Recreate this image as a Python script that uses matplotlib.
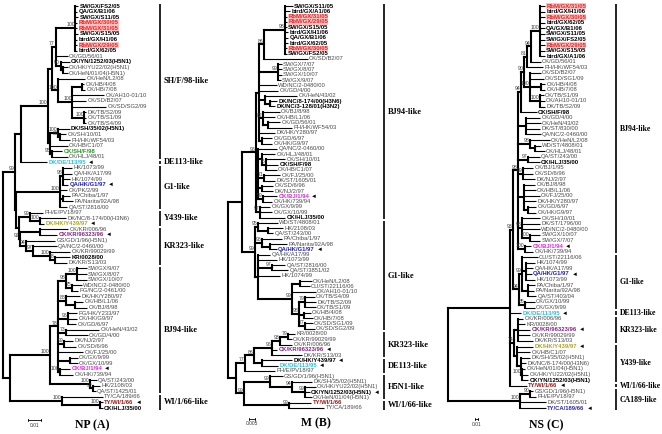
import matplotlib
matplotlib.use("Agg")
import matplotlib.pyplot as plt
from matplotlib.collections import LineCollection

plt.rcParams['font.family'] = ['Liberation Sans', 'DejaVu Sans']

# trees in Newick, branch lengths in 10^-3 substitutions/site,
# internal node labels are bootstrap values
NP_TREE = """
(
 (
  (
   (
    (
     (('SW/GX/FS2/05':2.2,'QA/GX/B1/06':1.5,'SW/GX/S11/05':2.2,'RbM/GX/30/05':1.5,'RbM/GX/31/05':1.5,
       'SW/GX/S15/05':2.2,'bird/GX/H1/06':1.5,'RbM/GX/29/05':1.5,'bird/GX/62/05':1.5)100:15,
      'CK/GD/56/01':9,
      ('CK/YN/1252/03(H5N1)':6.8,('CK/HK/YU22/02(H5N1)':3.8,'CK/HeN/01/04(H5N1)':3.8):1.5)90:3.8
     )77:3,
     ('CK/HeN/L2/08':21,
      (('CK/HB/4/08':1.5,'CK/HB/7/08':2.2):7.5,'CK/AH10-01/10':24,'CK/SD/B2/07':10.5,'CK/SD/SG2/09':25.5,
       ('DK/TB/S2/09':1.5,'CK/TB/S1/09':1.5,'CK/TB/S4/09':1.5)100:9)100:11.2
     )100:4.5
    ):3,
    (('DK/SH/35/02(H5N1)':9,('CK/SH/10/01':5.2,'PH/HK/WF54/03':7.5)88:1.5)100:6,
     'CK/HB/C1/07':13.5,
     ('CK/SH/F/98':8.2,'CK/HLJ/48/01':12)95:1.5
    ):1.5
   )100:20,
   'DK/DE/113/95':19.5
  ):4.5,
  (
   (('HK/1073/99':6.8,'QA/HK/A17/99':6.8,'HK/1074/99':5.2,'QA/HK/G1/97':3.8)98:2.2,'CK/PK/2/99':5.2,
    ('PA/Chiba/1/97':5.2,'PA/Narita/92A/98':7.5):2.2,'QA/ST/2816/00':5.2)100:33,
   (
    ('PH/E/PV18/97':9.8,('DK/NC/8-174/00(H3N6)':20,'DK/HK/Y439/97':3)100:7.5)99:8.2,
    (('CK/KR/006/96':21,'CK/KR/96323/96':12.8):15,
     ('GS/GD/1/96(H5N1)':22,('QA/NC/2-0460/00':18,('CK/KR/99029/99':15,
       ('KR/0028/00':11.2,'DK/KR/S13/03':9)78:3.8)100:12.8)97:5.2)94:4.5)92:0.75
   ):2.2
  ):0.75
 )99:9,
 (
  (
   (
    (('SW/GX/9/07':7.5,'SW/GX/8/07':7.5,'SW/GX/10/07':7.5)100:8.2,
     ('WD/NC/2-0480/00':7.5,'PG/NC/2-0461/00':4.5)75:4.5)98:6,
    ('DK/HK/Y280/97':10.5,('CK/HB/L1/06':6,'CK/BJ/8/98':9):6.8)88:6,
    ('PG/HK/Y233/97':6.8,'CK/HK/G9/97':6.8,'CK/GD/6/97':6)96:7.5,
    ('CK/HeN/43/02':24.8,'CK/GD/4/00':16.5)73:6,
    ('DK/NJ/2/97':6.8,'CK/SD/6/96':9)99:4.5,
    'CK/FJ/25/00':18.8,
    ('CK/GX/9/99':6,'CK/GX/10/99':6):9,
    ('CK/BJ/1/94':7.5,'CK/HK/739/94':9.8)100:1.5
   )78:6,
   ('QA/ST/243/00':5.2,('HK/2108/03':5.2,'QA/ST/1425/01':2.2)92:2.2)100:30
  )100:30,
  ('TY/CA/189/66':30.8,('TY/WI/1/66':2.2,'CK/HLJ/35/00':2.2)100:28.5)100:39
 ):5.2
);
"""

M_TREE = """
(
 (
  (
   (
    (('SW/GX/S11/05':6.6,'bird/GX/A1/06':4.2,'RbM/GX/31/05':1.7,'RbM/GX/29/05':1.7,'SW/GX/S15/05':1.7,
      'bird/GX/H1/06':2.5,'QA/GX/B1/06':2.5,'bird/GX/62/05':2.5,'RbM/GX/30/05':1.7,'SW/GX/FS2/05':1.7)98:17.4,
     'CK/SD/B2/07':36.5)86:4.2,
    ('SW/GX/7/07':3.3,'SW/GX/8/07':3.3,'SW/GX/10/07':3.3,'SW/GX/9/07':2.5)99:15.7,
    'WD/NC/2-0480/00':15,
    'CK/GD/4/00':15.8,
    ('CK/HeN/43/02':26.6,('DK/NC/8-174/00(H3N6)':5.8,'DK/NC/3-128/01(H3N2)':4.2):4.2):5,
    ('CK/BJ/8/98':14,'CK/HB/L1/06':10,('CK/GD/56/01':10,'PH/HK/WF54/03':20):4.2)82:3.3,
    'DK/HK/Y280/97':13.3,
    ('CK/GD/6/97':8.3,'CK/HK/G9/97':8.3):2.5
   ):2.5,
   ('QA/NC/2-0460/00':15.8,
    ('CK/HLJ/48/01':10.8,('CK/SH/10/01':15.8,'CK/SH/F/98':10,'CK/HB/C1/07':9.1)76:3.3):3.3,
    ('CK/FJ/25/00':13.3,'DK/ST/1605/01':9.1)71:5,
    ('CK/SD/6/96':9.1,'DK/NJ/2/97':9.1):3.3,
    ('CK/BJ/1/94':11.6,'CK/HK/739/94':7.5)99:4.2
   ):1.7,
   ('CK/GX/9/99':8.3,'CK/GX/10/99':10,'CK/HLJ/35/00':20.8)97:3.3
  )96:11.6,
  (
   ('WD/ST/4808/01':16.6,('HK/2108/03':12.5,'QA/ST/243/00':4.2):8.3)95:2.5,
   ('PA/Chiba/1/97':16.6,('PA/Narita/92A/98':14,'QA/HK/G1/97':5.8):6.6)96:5.8,
   ('QA/HK/A17/99':10,'HK/1073/99':15.8,('QA/ST/2816/00':10.8,'QA/ST/3851/02':13.3)97:11.6,'HK/1074/99':18.3,
    (('CK/HeN/L2/08':10,'CU/ST/22116/06':8.3):6.6,'CK/AH10-01/10':20,
     (('CK/TB/S4/09':8.3,'DK/TB/S2/09':9.1,'CK/TB/S1/09':9.1)79:5,('CK/HB/4/08':5.8,'CK/HB/7/08':7.5):4.2,
      ('CK/SD/SG1/09':6.6,'CK/SD/SG2/09':8.3)77:5)98:5.8
    )99:28.2
   ):2.5
  )99:10.8
 ):11.6,
 (
  (
   (
    ((('KR/0028/00':5.8,'CK/KR/99029/99':3.3)79:6.6,'CK/KR/006/96':10)93:6.6,'CK/KR/96323/96':4.2,'DK/KR/S13/03':25)96:15,
    ('DK/HK/Y439/97':25,'DK/DE/113/95':13.3):6.6
   )86:7.5,
   'PH/E/PV18/97':25
  )77:7.5,
  (
   ('GS/GD/1/96(H5N1)':10.8,('DK/SH/35/02(H5N1)':16.6,('CK/HK/YU22/02(H5N1)':9.1,'CK/YN/1252/03(H5N1)':4.2,
     'CK/HeN/01/04(H5N1)':5.8)99:10.8)94:18.3)99:21.6,
   ('TY/WI/1/66':18.3,'TY/CA/189/66':29)99:38
  )99:6.6
 ):6.6
);
"""

NS_TREE = """
(
 (
  (
   (
    (
     (
      (
       (('RbM/GX/31/05':18.5,'bird/GX/H1/06':18.5,'RbM/GX/30/05':18.5,'bird/GX/62/05':18.5,'QA/GX/B1/06':18.5,
         'SW/GX/S11/05':18.5,'SW/GX/FS2/05':18.5,'RbM/GX/29/05':18.5,'SW/GX/S15/05':18.5,'bird/GX/A1/06':18.5)100:33,
        'CK/GD/56/01':37)94:15,
       'PH/HK/WF54/03':59
      )81:11,
      ('CK/SD/B2/07':41,'CK/SD/SG1/09':52,('CK/HB/4/08':15,'CK/HB/7/08':15):41,
       ('CK/TB/S1/09':15,'CK/AH10-01/10':18.5,'DK/TB/S2/09':18.5)100:37)100:22
     )90:11,
     'CK/SH/F/98':59
    )94:11,
    ('CK/GD/4/00':52,'CK/HeN/43/02':55,'DK/ST/830/00':52,'QA/NC/2-0460/00':55):30,
    ('CK/HeN/L2/08':74,('WD/ST/4808/01':22,'CK/HLJ/48/01':37):18.5)98:44,
    ('QA/ST/243/00':44,'CK/HLJ/35/00':44)97:37,
    ('CK/BJ/1/95':37,'CK/SD/6/96':37,'DK/NJ/2/97':44)99:18.5,
    ('CK/BJ/8/98':41,'CK/HB/L1/06':44,'CK/FJ/25/00':59,'DK/HK/Y280/97':44,('CK/GD/6/97':30,'CK/HK/G9/97':30):15):22,
    ('CK/SH/10/01':67,'DK/ST/1796/00':67,'WD/NC/2-0480/00':67,('SW/GX/10/07':37,'SW/GX/7/07':37)100:30)98:15,
    ('CK/BJ/1/94':22,'CK/HK/739/94':30)100:26
   )98:18.5,
   (('CU/ST/22116/06':59,('HK/1074/99':33,'QA/HK/A17/99':26,'QA/HK/G1/97':22,'HK/1073/99':33):15,
     ('PA/Chiba/1/97':26,'PA/Narita/92A/98':22,'QA/ST/403/04':30):22)99:11,
    ('CK/GX/10/99':37,'CK/GX/9/99':37)85:22)94:22
  )93:11,
  'DK/DE/113/95':41,
  (('CK/KR/006/96':18.5,'KR/0028/00':26,'CK/KR/96323/96':44,'CK/KR/99029/99':44,'DK/KR/S13/03':55):15,
   ('DK/HK/Y439/97':59,'CK/HB/C1/07':48,('DK/SH/35/02(H5N1)':33,'DK/NC/8-174/00(H3N6)':18.5,
     ('CK/HeN/01/04(H5N1)':11,'CK/HK/YU22/02(H5N1)':22,'CK/YN/1252/03(H5N1)':22)100:3.7):15):11)74:15,
  'TY/WI/1/66':63
 ):229,
 (('GS/GD/1/96(H5N1)':11,'PH/E/PV18/97':22)90:37,'DK/ST/1605/01':96,'TY/CA/189/66':96)100:266
);
"""

RBM = ['RbM/GX/29/05', 'RbM/GX/30/05', 'RbM/GX/31/05']
GX_BOLD = ['SW/GX/FS2/05', 'QA/GX/B1/06', 'SW/GX/S11/05', 'SW/GX/S15/05',
           'bird/GX/H1/06', 'bird/GX/62/05', 'bird/GX/A1/06']

NP_BOLD = ['CK/YN/1252/03(H5N1)', 'DK/SH/35/02(H5N1)', 'KR/0028/00', 'CK/HLJ/35/00']
M_BOLD = ['DK/NC/8-174/00(H3N6)', 'DK/NC/3-128/01(H3N2)', 'CK/SH/F/98', 'CK/HLJ/35/00',
          'DK/HK/Y439/97', 'CK/YN/1252/03(H5N1)']
NS_BOLD = ['CK/SH/F/98', 'CK/HLJ/35/00', 'CK/YN/1252/03(H5N1)']

NP_MARKED = ['DK/DE/113/95', 'QA/HK/G1/97', 'DK/HK/Y439/97', 'CK/KR/96323/96', 'CK/BJ/1/94', 'TY/WI/1/66']
M_MARKED = ['CK/BJ/1/94', 'QA/HK/G1/97', 'CK/KR/96323/96', 'DK/HK/Y439/97', 'DK/DE/113/95',
            'CK/YN/1252/03(H5N1)']
NS_MARKED = ['DK/DE/113/95', 'CK/KR/96323/96', 'DK/HK/Y439/97', 'TY/WI/1/66', 'TY/CA/189/66',
             'CK/BJ/1/94', 'QA/HK/G1/97']

NP_COLORS = {'CK/SH/F/98': '#1f9a1f', 'DK/DE/113/95': '#25c3e6', 'QA/HK/G1/97': '#1a1ac8',
             'DK/HK/Y439/97': '#b2a21c', 'CK/KR/96323/96': '#8b1c8b', 'CK/BJ/1/94': '#e424e4',
             'TY/WI/1/66': '#a31414'}
M_COLORS = {'CK/BJ/1/94': '#e424e4', 'QA/HK/G1/97': '#1a1ac8', 'CK/KR/96323/96': '#8b1c8b',
            'DK/DE/113/95': '#25c3e6', 'TY/WI/1/66': '#a31414'}
NS_COLORS = {'CK/BJ/1/94': '#e424e4', 'QA/HK/G1/97': '#1a1ac8', 'DK/DE/113/95': '#25c3e6',
             'CK/KR/96323/96': '#8b1c8b', 'DK/HK/Y439/97': '#b2a21c', 'TY/WI/1/66': '#a31414',
             'TY/CA/189/66': '#2a2aa0'}

NP_CLADES = [('SH/F/98-like', 'SW/GX/FS2/05', 'CK/HLJ/48/01'),
             ('DE113-like', 'DK/DE/113/95', 'DK/DE/113/95'),
             ('G1-like', 'HK/1073/99', 'QA/ST/2816/00'),
             ('Y439-like', 'PH/E/PV18/97', 'DK/HK/Y439/97'),
             ('KR323-like', 'CK/KR/006/96', 'DK/KR/S13/03'),
             ('BJ94-like', 'SW/GX/9/07', 'QA/ST/1425/01'),
             ('WI/1/66-like', 'TY/CA/189/66', 'CK/HLJ/35/00')]
M_CLADES = [('BJ94-like', 'SW/GX/S11/05', 'CK/HLJ/35/00'),
            ('G1-like', 'WD/ST/4808/01', 'CK/SD/SG2/09'),
            ('KR323-like', 'KR/0028/00', 'DK/KR/S13/03'),
            ('DE113-like', 'DK/HK/Y439/97', 'PH/E/PV18/97'),
            ('H5N1-like', 'GS/GD/1/96(H5N1)', 'CK/HeN/01/04(H5N1)'),
            ('WI/1/66-like', 'TY/WI/1/66', 'TY/CA/189/66')]
NS_CLADES = [('BJ94-like', 'RbM/GX/31/05', 'CK/HK/739/94'),
             ('G1-like', 'CU/ST/22116/06', 'CK/GX/9/99'),
             ('DE113-like', 'DK/DE/113/95', 'DK/DE/113/95'),
             ('KR323-like', 'CK/KR/006/96', 'DK/KR/S13/03'),
             ('Y439-like', 'DK/HK/Y439/97', 'CK/YN/1252/03(H5N1)'),
             ('WI/1/66-like', 'TY/WI/1/66', 'TY/WI/1/66'),
             ('CA189-like', 'GS/GD/1/96(H5N1)', 'TY/CA/189/66')]


def parse_newick(text):
    s = "".join(text.split())
    pos = 0

    def read():
        nonlocal pos
        node = {'kids': [], 'name': '', 'sup': '', 'len': 0.0}
        if s[pos] == '(':
            pos += 1
            node['kids'].append(read())
            while s[pos] == ',':
                pos += 1
                node['kids'].append(read())
            pos += 1
        if s[pos] == "'":
            end = s.index("'", pos + 1)
            label = s[pos + 1:end]
            pos = end + 1
        else:
            start = pos
            while s[pos] not in ':,);':
                pos += 1
            label = s[start:pos]
        if s[pos] == ':':
            pos += 1
            start = pos
            while s[pos] not in ',);':
                pos += 1
            node['len'] = float(s[start:pos])
        if node['kids']:
            node['sup'] = label
        else:
            node['name'] = label
        return node

    return read()


def place(node, x0, tips):
    node['x'] = x0 + node['len']
    if node['kids']:
        for k in node['kids']:
            place(k, node['x'], tips)
        node['y'] = (node['kids'][0]['y'] + node['kids'][-1]['y']) / 2
    else:
        node['y'] = len(tips)
        tips.append(node)


def collect(node, inner, outer, nodes):
    nodes.append(node)
    for k in node['kids']:
        seg = [(node['x'], k['y']), (k['x'], k['y'])]
        (inner if k['kids'] else outer).append(seg)
        collect(k, inner, outer, nodes)
    if node['kids']:
        inner.append([(node['x'], node['kids'][0]['y']), (node['x'], node['kids'][-1]['y'])])


W, H = 662, 434
PANELS = [
    dict(tree=NP_TREE, bold=NP_BOLD, marked=NP_MARKED, colors=NP_COLORS, clades=NP_CLADES,
         left=0, width=225, root=3, ppu=1.33, y0=6, y1=408, bar=160, clade_fs=6,
         scale=10, scale_txt='0.01', scale_x=28, scale_y=420, title='NP (A)', title_x=92, title_y=425),
    dict(tree=M_TREE, bold=M_BOLD, marked=M_MARKED, colors=M_COLORS, clades=M_CLADES,
         left=225, width=215, root=228, ppu=1.2, y0=6, y1=408, bar=384, clade_fs=6,
         scale=5, scale_txt='0.005', scale_x=249, scale_y=419, title='M (B)', title_x=316, title_y=423),
    dict(tree=NS_TREE, bold=NS_BOLD, marked=NS_MARKED, colors=NS_COLORS, clades=NS_CLADES,
         left=440, width=222, root=448, ppu=0.27, y0=6, y1=408, bar=616, clade_fs=5.6,
         scale=10, scale_txt='0.01', scale_x=475, scale_y=419, title='NS (C)', title_x=546, title_y=425),
]

fig = plt.figure(figsize=(W / 100, H / 100), dpi=100)
fig.patch.set_facecolor('white')

for p in PANELS:
    root = parse_newick(p['tree'])
    tips = []
    place(root, 0.0, tips)
    n = len(tips)
    dy = (p['y1'] - p['y0']) / (n - 1)
    ppu = p['ppu']

    def X(px):
        return (px - p['root']) / ppu

    def Y(py):
        return (py - p['y0']) / dy

    ax = fig.add_axes([p['left'] / W, 0, p['width'] / W, 1])
    ax.set_xlim(X(p['left']), X(p['left'] + p['width']))
    ax.set_ylim(Y(H), Y(0))
    ax.axis('off')

    inner, outer, nodes = [], [], []
    collect(root, inner, outer, nodes)
    ax.add_collection(LineCollection(inner, colors='black', linewidths=1.5, capstyle='projecting'))
    ax.add_collection(LineCollection(outer, colors='black', linewidths=0.8, capstyle='butt'))

    index = {}
    for t in tips:
        name = t['name']
        index[name] = t['y']
        kw = dict(fontsize=4.2, va='center', ha='left', color='#4a4a4a')
        if name in RBM:
            kw.update(color='#f02020', fontweight='bold', fontsize=4.3,
                      bbox=dict(facecolor='#ffc2c2', edgecolor='none', pad=0.2))
        elif name in GX_BOLD or name in p['bold']:
            kw.update(color='black', fontweight='bold', fontsize=4.3)
        if name in p['colors']:
            kw.update(color=p['colors'][name], fontweight='bold')
        txt = ax.text(t['x'] + 1.5 / ppu, t['y'], name, **kw)
        if name in p['marked']:
            ax.annotate('\u25c4', xy=(1, 0.5), xycoords=txt, xytext=(1.5, 0),
                        textcoords='offset points', fontsize=4.2, color='black',
                        ha='left', va='center')

    for nd in nodes:
        if nd['kids'] and nd['sup']:
            ax.text(nd['x'] - 0.6 / ppu, nd['y'] - 0.15, nd['sup'], fontsize=3.7,
                    color='#3a3a3a', ha='right', va='bottom')

    for lab, first, last in p['clades']:
        a, b = index[first] - 0.32, index[last] + 0.32
        ax.plot([X(p['bar']), X(p['bar'])], [a, b], color='black', lw=1.2, solid_capstyle='butt')
        ax.text(X(p['bar'] + 3.5), (a + b) / 2, lab, family='Liberation Serif', fontweight='bold',
                fontsize=p['clade_fs'], va='center', ha='left', color='black')

    sx = X(p['scale_x'])
    sy = Y(p['scale_y'])
    ax.plot([sx, sx + p['scale']], [sy, sy], color='black', lw=0.6)
    for ex in (sx, sx + p['scale']):
        ax.plot([ex, ex], [sy - 0.25, sy + 0.25], color='black', lw=0.6)
    ax.text(sx + p['scale'] / 2, sy + 0.45, p['scale_txt'], fontsize=3.5, ha='center', va='top',
            color='#333333')
    ax.text(X(p['title_x']), Y(p['title_y']), p['title'], family='Liberation Serif',
            fontweight='bold', fontsize=8.5, ha='center', va='center')

fig.savefig('out.png', dpi=100)
